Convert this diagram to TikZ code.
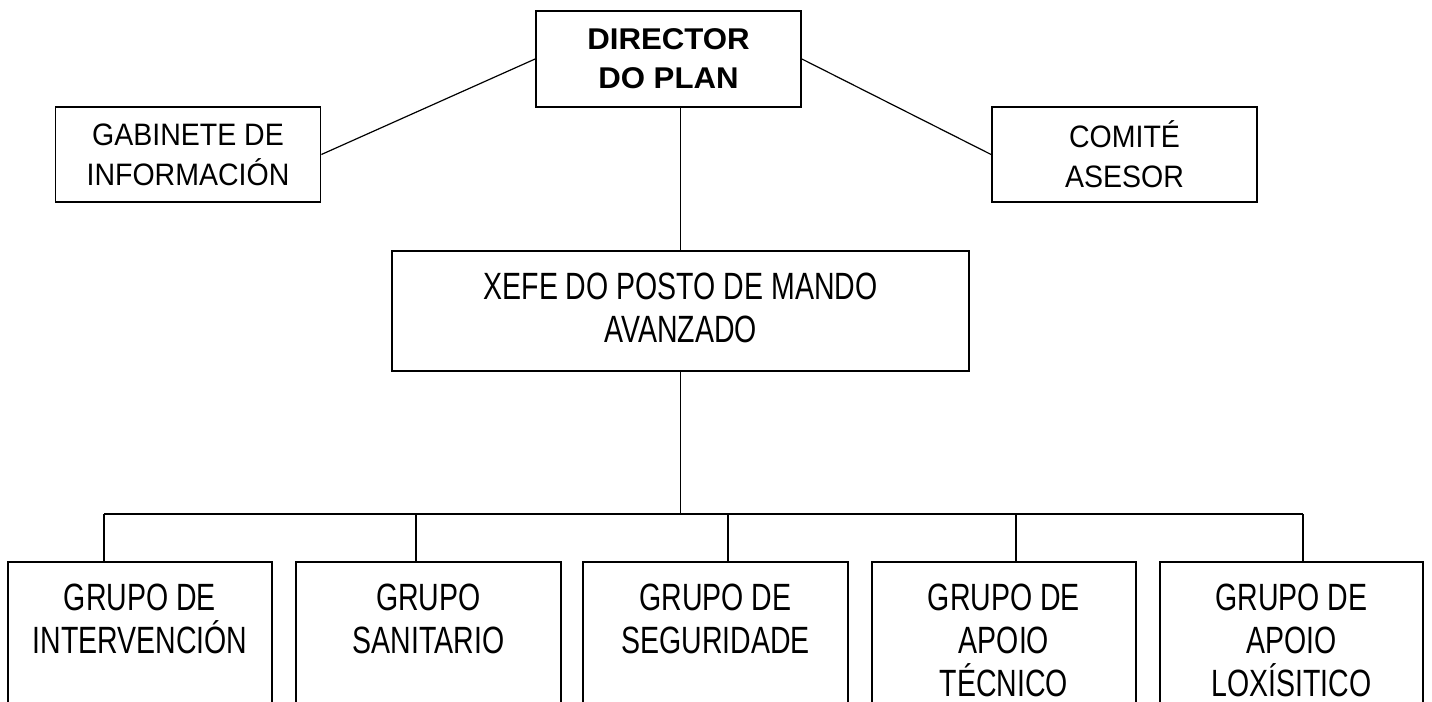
\documentclass[tikz,border=0pt]{standalone}
\usepackage{fontspec}
\usepackage{tikz}
\setmainfont{Liberation Sans}
\newfontfamily\dirfont[FakeStretch=1.04]{Liberation Sans}
\newfontfamily\topfont[FakeStretch=0.92]{Liberation Sans}
\newfontfamily\narrowfont[FakeStretch=0.75]{Liberation Sans}
\newcommand{\toptext}[3]{\parbox[c][#1][t]{#2}{\centering\vspace*{11pt}#3}}

\begin{document}
\begin{tikzpicture}[x=0.5pt, y=-0.5pt,
    topbox/.style = {draw, line width=0.9pt, inner sep=0pt, align=center, minimum width=132.5pt, minimum height=47.5pt, font=\topfont\fontsize{15.5}{20}\selectfont},
    grupo/.style = {draw, line width=0.9pt, inner sep=0pt, font=\narrowfont\fontsize{19}{21.5}\selectfont},
    link/.style = {line width=0.6pt}]
        \useasboundingbox (0,0) rectangle (1432,702);
        \clip (0,0) rectangle (1432,702);
        \node[topbox, minimum height=48pt, font=\dirfont\bfseries\fontsize{15}{19.5}\selectfont] (1) at (668.5,59) {DIRECTOR\\DO PLAN};
        \node[topbox] (2) at (188,154.5) {GABINETE DE\\INFORMACIÓN};
        \node[topbox] (3) at (1124.5,154.5) {COMITÉ\\ASESOR};
        \node[grupo] (4) at (680.5,311) {\toptext{60pt}{288.5pt}{XEFE DO POSTO DE MANDO\\AVANZADO}};
        \node[grupo] (5) at (140,641) {\toptext{79pt}{132pt}{GRUPO DE\\INTERVENCIÓN}};
        \node[grupo] (6) at (428.5,641) {\toptext{79pt}{132.5pt}{GRUPO\\SANITARIO}};
        \node[grupo] (7) at (715.5,641) {\toptext{79pt}{132.5pt}{GRUPO DE\\SEGURIDADE}};
        \node[grupo] (8) at (1004,641) {\toptext{79pt}{132pt}{GRUPO DE\\APOIO\\TÉCNICO}};
        \node[grupo] (9) at (1291.5,641) {\toptext{79pt}{131.5pt}{GRUPO DE\\APOIO\\LOXÍSITICO}};
        \coordinate (bus) at (680.5,514);
        \coordinate (b5) at (104,514);
        \coordinate (b6) at (416,514);
        \coordinate (b7) at (728,514);
        \coordinate (b8) at (1016,514);
        \coordinate (b9) at (1303,514);
        \draw[link] (1.west) -- (2.east);
        \draw[link] (1.east) -- (3.west);
        \draw[link] (4.north) -- (4.north |- 1.south);
        \draw[link] (4.south) -- (bus);
        \draw[link] (b5) -- (b9);
        \draw[link] (b5) -- (b5 |- 5.north);
        \draw[link] (b6) -- (b6 |- 6.north);
        \draw[link] (b7) -- (b7 |- 7.north);
        \draw[link] (b8) -- (b8 |- 8.north);
        \draw[link] (b9) -- (b9 |- 9.north);
    \end{tikzpicture}
\end{document}
